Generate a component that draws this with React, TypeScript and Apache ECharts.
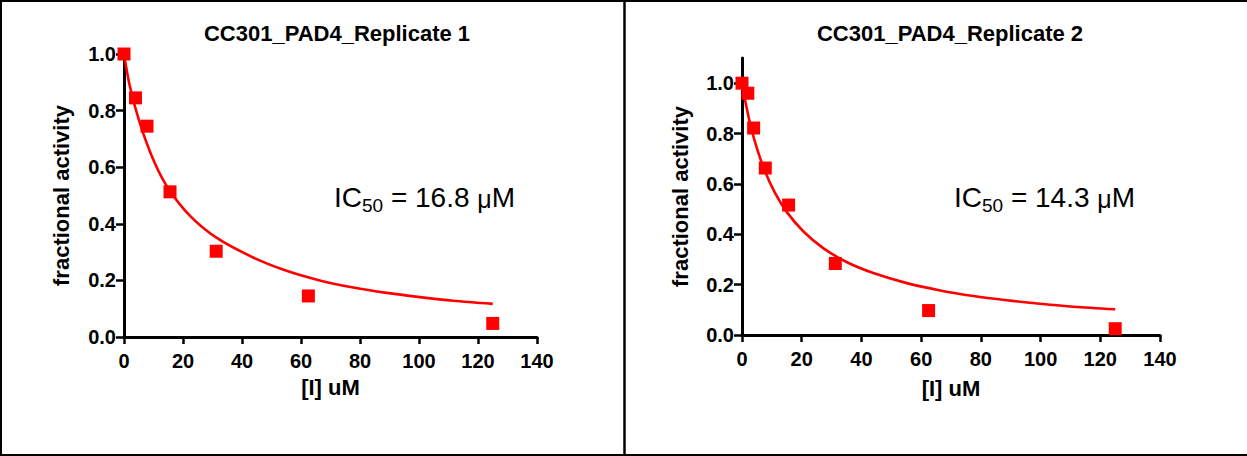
import React, { useEffect, useRef } from "react";
import * as echarts from "echarts";

// ---- data ----
const titles = ["CC301_PAD4_Replicate 1", "CC301_PAD4_Replicate 2"];
const ic50Values = ["16.8", "14.3"];
const xAxisName = "[I] uM";
const yAxisName = "fractional activity";
const yTickValues = [0, 0.2, 0.4, 0.6, 0.8, 1.0];

// replicate 1 measured points
const conc1 = [0, 3.9, 7.8, 15.6, 31.25, 62.5, 125];
const act1 = [1.0, 0.845, 0.745, 0.513, 0.303, 0.145, 0.048];
// replicate 1 fitted curve
const fitX1 = [0, 2.0, 5.4, 10.2, 15.0, 22.4, 31.2, 43.8, 55.1, 66.4, 77.7, 89.0, 100.3, 111.6, 125];
const fitY1 = [1.0, 0.885, 0.755, 0.62, 0.525, 0.428, 0.352, 0.281, 0.234, 0.2, 0.175, 0.156, 0.141, 0.128, 0.117];

// replicate 2 measured points
const conc2 = [0, 1.95, 3.9, 7.8, 15.6, 31.25, 62.5, 125];
const act2 = [1.0, 0.96, 0.822, 0.663, 0.516, 0.284, 0.097, 0.025];
// replicate 2 fitted curve
const fitX2 = [0, 1.0, 2.7, 4.9, 7.7, 11.0, 14.9, 20.5, 27.2, 35.0, 44.0, 55.2, 66.4, 77.5, 88.7, 99.8, 111.0, 125];
const fitY2 = [1.0, 0.935, 0.84, 0.745, 0.65, 0.565, 0.49, 0.412, 0.345, 0.29, 0.246, 0.206, 0.177, 0.155, 0.138, 0.124, 0.112, 0.102];

const FONT = '"Liberation Sans", Arial, Helvetica, sans-serif';
const RED = "#ff0000";

const pairs = (xs: number[], ys: number[]) => xs.map((x, i) => [x, ys[i]]);

export default function App() {
  const ref = useRef<HTMLDivElement>(null);

  useEffect(() => {
    if (!ref.current) return;
    const chart = echarts.init(ref.current, null, { renderer: "svg" });

    const grids = [
      { left: 124, top: 54, width: 413, height: 283 },
      { left: 742, top: 58, width: 418, height: 277 },
    ];
    const yMax = [1.0, 1.1];
    const yGap = [52, 51];
    const xGap = [39, 42];

    const xAxes = grids.map((_, i) => ({
      type: "value",
      gridIndex: i,
      min: 0,
      max: 140,
      interval: 20,
      name: xAxisName,
      nameLocation: "middle",
      nameGap: xGap[i],
      nameTextStyle: { fontFamily: FONT, fontSize: 22, fontWeight: "bold", color: "#000" },
      axisLine: { show: true, lineStyle: { color: "#000", width: 3 } },
      axisTick: { show: true, length: 7, lineStyle: { color: "#000", width: 2.5 } },
      axisLabel: { fontFamily: FONT, fontSize: 20, fontWeight: "bold", color: "#000", margin: 14 },
      splitLine: { show: false },
    }));

    const yAxes = grids.map((_, i) => ({
      type: "value",
      gridIndex: i,
      min: 0,
      max: yMax[i],
      interval: 0.2,
      name: yAxisName,
      nameLocation: "middle",
      nameGap: yGap[i],
      nameTextStyle: { fontFamily: FONT, fontSize: 22, fontWeight: "bold", color: "#000" },
      axisLine: { show: true, lineStyle: { color: "#000", width: 3 } },
      axisTick: { show: true, length: 8, lineStyle: { color: "#000", width: 2.5 }, customValues: yTickValues },
      axisLabel: {
        fontFamily: FONT,
        fontSize: 20,
        fontWeight: "bold",
        color: "#000",
        margin: 8,
        customValues: yTickValues,
        formatter: (v: number) => (v > 1.0001 ? "" : v.toFixed(1)),
      },
      splitLine: { show: false },
    }));

    const lineSeries = (idx: number, xs: number[], ys: number[]) => ({
      type: "line",
      xAxisIndex: idx,
      yAxisIndex: idx,
      data: pairs(xs, ys),
      smooth: 0.3,
      showSymbol: false,
      symbol: "none",
      lineStyle: { color: RED, width: 2.6 },
      z: 2,
    });
    const pointSeries = (idx: number, xs: number[], ys: number[]) => ({
      type: "scatter",
      xAxisIndex: idx,
      yAxisIndex: idx,
      data: pairs(xs, ys),
      symbol: "rect",
      symbolSize: 13,
      itemStyle: { color: RED, opacity: 1 },
      z: 3,
    });

    const titleX = [337, 950];
    const icX = [334, 954];

    const graphic: any[] = [
      { type: "line", shape: { x1: 0, y1: 1, x2: 1247, y2: 1 }, style: { stroke: "#000", lineWidth: 2 } },
      { type: "line", shape: { x1: 0, y1: 455, x2: 1247, y2: 455 }, style: { stroke: "#000", lineWidth: 2 } },
      { type: "line", shape: { x1: 1, y1: 0, x2: 1, y2: 456 }, style: { stroke: "#000", lineWidth: 2 } },
      { type: "line", shape: { x1: 624.5, y1: 0, x2: 624.5, y2: 456 }, style: { stroke: "#000", lineWidth: 2.5 } },
    ];
    titles.forEach((t, i) => {
      graphic.push({
        type: "text",
        x: titleX[i],
        y: 33.5,
        style: {
          text: t,
          fontFamily: FONT,
          fontSize: 22,
          fontWeight: "bold",
          fill: "#000",
          textAlign: "center",
          textVerticalAlign: "middle",
        },
      });
      graphic.push({
        type: "text",
        x: icX[i],
        y: 197,
        style: {
          text: "{m|IC}{s|50}{m| = " + ic50Values[i] + " }{u|μ}{m|M}",
          fontFamily: FONT,
          fontSize: 28,
          fill: "#000",
          textAlign: "left",
          textVerticalAlign: "middle",
          rich: {
            m: { fontFamily: FONT, fontSize: 28, fill: "#000" },
            u: { fontFamily: FONT, fontSize: 25, fill: "#000", padding: [4, 0, 0, 0] },
            s: { fontFamily: FONT, fontSize: 19, fill: "#000", padding: [17, 0, 0, 0] },
          },
        },
      });
    });

    chart.setOption({
      animation: false,
      backgroundColor: "#fff",
      grid: grids,
      xAxis: xAxes,
      yAxis: yAxes,
      series: [
        lineSeries(0, fitX1, fitY1),
        pointSeries(0, conc1, act1),
        lineSeries(1, fitX2, fitY2),
        pointSeries(1, conc2, act2),
      ],
      graphic,
    });

    return () => chart.dispose();
  }, []);

  return (
    <div
      ref={ref}
      style={{ position: "absolute", left: 0, top: 0, width: 1247, height: 456, background: "#fff" }}
    />
  );
}
